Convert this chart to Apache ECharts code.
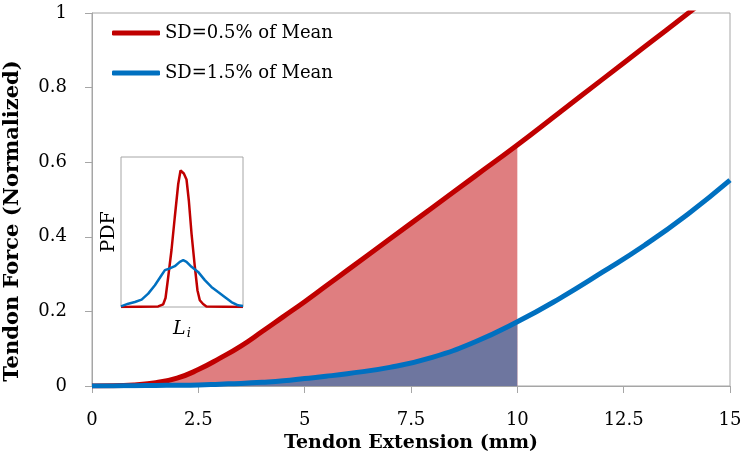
<!DOCTYPE html>
<html>
<head>
<meta charset="utf-8">
<script src="https://cdn.jsdelivr.net/npm/echarts@6/dist/echarts.min.js"></script>
<style>html,body{margin:0;padding:0;background:#fff}#c{width:742px;height:454px}</style>
</head>
<body>
<div id="c"></div>
<script>
// Main chart data
var extension = [0, 0.5, 1, 1.5, 2, 2.5, 3, 3.5, 4, 4.5, 5, 5.5, 6, 7, 8, 9, 10, 11, 12, 13, 14, 15];
var forceSD05 = [0, 0.0004, 0.003, 0.009, 0.021, 0.044, 0.074, 0.107, 0.146, 0.186, 0.226, 0.268, 0.31, 0.394, 0.478, 0.562, 0.646, 0.734, 0.822, 0.91, 0.998, 1.086];
var forceSD15 = [0, 0.0003, 0.001, 0.0015, 0.002, 0.003, 0.005, 0.007, 0.01, 0.014, 0.02, 0.026, 0.033, 0.05, 0.077, 0.118, 0.172, 0.235, 0.305, 0.378, 0.46, 0.552];
var shadeLimit = 10;
var xTicks = ['0', '2.5', '5', '7.5', '10', '12.5', '15'];
var yTicks = ['0', '0.2', '0.4', '0.6', '0.8', '1'];
var seriesNames = ['SD=0.5% of Mean', 'SD=1.5% of Mean'];

// Inset PDF data (arbitrary length units 0-100, density relative to box)
var pdfXRed = [0, 30.5, 34.6, 36.5, 38.7, 41.4, 44.1, 46.9, 48.8, 50.4, 51.5, 53.7, 55.6, 57.8, 60.5, 62.7, 64.6, 67.3, 70, 100];
var pdfRed = [0, 0.004, 0.018, 0.06, 0.2, 0.38, 0.6, 0.82, 0.91, 0.915, 0.89, 0.85, 0.71, 0.49, 0.27, 0.11, 0.045, 0.02, 0.004, 0];
var pdfXBlue = [0, 6, 11.4, 16.9, 22.3, 27.8, 33.2, 36, 40, 44.1, 48.2, 51, 53.7, 57.8, 63.2, 68.7, 74.1, 79.6, 85, 90.5, 95.9, 100];
var pdfBlue = [0.004, 0.022, 0.033, 0.049, 0.089, 0.145, 0.212, 0.246, 0.257, 0.272, 0.301, 0.312, 0.301, 0.268, 0.234, 0.179, 0.134, 0.1, 0.067, 0.033, 0.011, 0.007];

function zip(xs, ys) { return xs.map(function (x, i) { return [x, ys[i]]; }); }
function upTo(xs, ys, lim) { return zip(xs, ys).filter(function (p) { return p[0] <= lim; }); }

var red = '#C00000', blue = '#0070C0', gray = '#A6A6A6';
var serif = 'DejaVu Serif';

var chart = echarts.init(document.getElementById('c'));
chart.setOption({
  animation: false,
  backgroundColor: '#fff',
  legend: {
    data: seriesNames,
    orient: 'vertical',
    left: 107, top: 18,
    itemWidth: 48, itemHeight: 5, itemGap: 20,
    icon: 'roundRect',
    textStyle: { fontFamily: serif, fontSize: 18, color: '#000', lineHeight: 20 }
  },
  grid: [
    { left: 92, right: 12, top: 13, bottom: 68, show: true, borderColor: gray, borderWidth: 1, backgroundColor: 'transparent',
      containLabel: false, outerBoundsMode: 'none' },
    { left: 121, top: 157, width: 122, height: 150, show: true, borderColor: gray, borderWidth: 1, z: 5,
      containLabel: false, outerBoundsMode: 'none' }
  ],
  xAxis: [
    {
      type: 'value', min: 0, max: 15, interval: 2.5, gridIndex: 0,
      name: 'Tendon Extension (mm)', nameLocation: 'middle', nameGap: 40,
      nameTextStyle: { fontFamily: serif, fontWeight: 'bold', fontSize: 19, color: '#000' },
      axisLine: { lineStyle: { color: gray } },
      axisTick: { length: 7, lineStyle: { color: gray } },
      splitLine: { show: false },
      axisLabel: { fontFamily: serif, fontSize: 18, color: '#000', margin: 25,
        formatter: function (v) { var i = Math.round(v / 2.5); return xTicks[i]; } }
    },
    {
      type: 'value', min: 0, max: 100, gridIndex: 1,
      name: '{l|L}{s|i}', nameLocation: 'middle', nameGap: 12,
      nameTextStyle: { rich: {
        l: { fontFamily: serif, fontStyle: 'italic', fontSize: 19, color: '#000' },
        s: { fontFamily: serif, fontStyle: 'italic', fontSize: 13, color: '#000', verticalAlign: 'bottom', padding: [8, 0, 0, 1] } } },
      axisLine: { show: false }, axisTick: { show: false }, axisLabel: { show: false }, splitLine: { show: false }
    }
  ],
  yAxis: [
    {
      type: 'value', min: 0, max: 1, interval: 0.2, gridIndex: 0,
      name: 'Tendon Force (Normalized)', nameLocation: 'middle', nameGap: 69,
      nameTextStyle: { fontFamily: serif, fontWeight: 'bold', fontSize: 21, color: '#000', padding: [0, 43, 0, 0] },
      axisLine: { show: true, lineStyle: { color: gray } },
      axisTick: { show: true, length: 7, lineStyle: { color: gray } },
      splitLine: { show: false },
      axisLabel: { fontFamily: serif, fontSize: 18, color: '#000', margin: 25,
        formatter: function (v) { var i = Math.round(v / 0.2); return yTicks[i]; } }
    },
    {
      type: 'value', min: 0, max: 1, gridIndex: 1,
      name: 'PDF', nameLocation: 'middle', nameGap: 2,
      nameTextStyle: { fontFamily: serif, fontSize: 19, color: '#000' },
      axisLine: { show: false }, axisTick: { show: false }, axisLabel: { show: false }, splitLine: { show: false }
    }
  ],
  series: [
    { name: 'area05', type: 'line', data: upTo(extension, forceSD05, shadeLimit), smooth: true, symbol: 'none',
      lineStyle: { width: 0 }, areaStyle: { color: '#DF7E80', opacity: 1 }, z: 1, silent: true },
    { name: 'area15', type: 'line', data: upTo(extension, forceSD15, shadeLimit), smooth: true, symbol: 'none',
      lineStyle: { width: 0 }, areaStyle: { color: '#6E769F', opacity: 1 }, z: 2, silent: true },
    { name: seriesNames[0], type: 'line', data: zip(extension, forceSD05), smooth: true, symbol: 'none',
      color: red, lineStyle: { width: 5, color: red }, z: 3 },
    { name: seriesNames[1], type: 'line', data: zip(extension, forceSD15), smooth: true, symbol: 'none',
      color: blue, lineStyle: { width: 5, color: blue }, z: 4 },
    { name: 'pdf05', type: 'line', xAxisIndex: 1, yAxisIndex: 1, data: zip(pdfXRed, pdfRed), symbol: 'none',
      lineStyle: { width: 2.5, color: red }, z: 6 },
    { name: 'pdf15', type: 'line', xAxisIndex: 1, yAxisIndex: 1, data: zip(pdfXBlue, pdfBlue), symbol: 'none',
      lineStyle: { width: 2.5, color: blue }, z: 6 }
  ]
});
</script>
</body>
</html>
